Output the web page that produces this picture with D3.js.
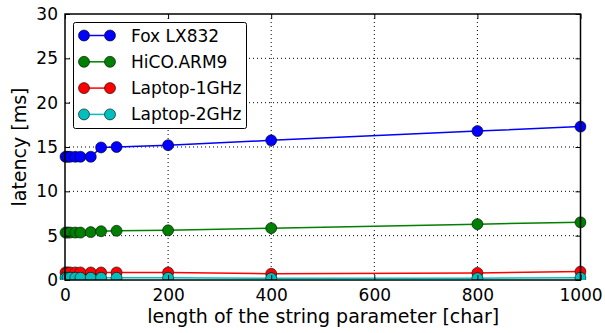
<!DOCTYPE html>
<html>
<head>
<meta charset="utf-8">
<script src="https://cdn.jsdelivr.net/npm/d3@7"></script>
<style>
  html, body { margin: 0; padding: 0; background: #fff; }
  svg { display: block; font-family: "DejaVu Sans", sans-serif; }
</style>
</head>
<body>
<svg id="chart" width="605" height="333"></svg>
<script>
// String length passed as parameter [char]
const stringLengths = [1, 5, 10, 20, 30, 50, 70, 100, 200, 400, 800, 1000];

// Measured latency per platform [ms]
const foxLX832    = [13.9, 13.9, 13.9, 13.9, 13.9, 13.9, 14.95, 15.0, 15.2, 15.75, 16.8, 17.3];
const hicoARM9    = [5.35, 5.35, 5.35, 5.35, 5.35, 5.4, 5.5, 5.55, 5.6, 5.85, 6.3, 6.5];
const laptop1GHz  = [0.85, 0.85, 0.85, 0.85, 0.85, 0.85, 0.85, 0.85, 0.85, 0.7, 0.8, 0.95];
const laptop2GHz  = [0.25, 0.25, 0.25, 0.25, 0.25, 0.25, 0.25, 0.25, 0.25, 0.2, 0.2, 0.25];

const seriesNames  = ["Fox LX832", "HiCO.ARM9", "Laptop-1GHz", "Laptop-2GHz"];
const seriesValues = [foxLX832, hicoARM9, laptop1GHz, laptop2GHz];
const seriesColors = ["#0000ff", "#008000", "#ff0000", "#00bfbf"];

const xTicks = [0, 200, 400, 600, 800, 1000];
const yTicks = [0, 5, 10, 15, 20, 25, 30];

const svg = d3.select("#chart");
const plotLeft = 65, plotRight = 580.5, plotTop = 14, plotBottom = 280;

const x = d3.scaleLinear().domain([0, 1000]).range([plotLeft, plotRight]);
const y = d3.scaleLinear().domain([0, 30]).range([plotBottom, plotTop]);

const fontSize = 17;
const titleSize = 19;

// Dotted grid
const grid = svg.append("g");
grid.selectAll("line.gx").data(xTicks.slice(1, -1)).join("line")
  .attr("x1", d => x(d)).attr("x2", d => x(d))
  .attr("y1", plotTop).attr("y2", plotBottom)
  .attr("stroke", "#000").attr("stroke-width", 1).attr("stroke-dasharray", "1,3");
grid.selectAll("line.gy").data(yTicks.slice(1, -1)).join("line")
  .attr("y1", d => y(d)).attr("y2", d => y(d))
  .attr("x1", plotLeft).attr("x2", plotRight)
  .attr("stroke", "#000").attr("stroke-width", 1).attr("stroke-dasharray", "1,3");

// Series
svg.append("clipPath").attr("id", "plotclip").append("rect")
  .attr("x", plotLeft - 6).attr("y", plotTop)
  .attr("width", plotRight - plotLeft + 12).attr("height", plotBottom - plotTop);

const line = d3.line().x((d, i) => x(stringLengths[i])).y(d => y(d));
const plot = svg.append("g").attr("clip-path", "url(#plotclip)");
seriesValues.forEach((vals, k) => {
  const g = plot.append("g");
  g.append("path").datum(vals)
    .attr("d", line).attr("fill", "none")
    .attr("stroke", seriesColors[k]).attr("stroke-width", 1.5);
  g.selectAll("circle").data(vals).join("circle")
    .attr("cx", (d, i) => x(stringLengths[i]))
    .attr("cy", d => y(d))
    .attr("r", 5.5)
    .attr("fill", seriesColors[k])
    .attr("stroke", "#000").attr("stroke-width", 0.6);
});

// Axes frame with inward ticks on all sides
const xAxisB = d3.axisBottom(x).tickValues(xTicks).tickSize(-5).tickPadding(9).tickFormat(d3.format("d"));
const xAxisT = d3.axisTop(x).tickValues(xTicks).tickSize(-5).tickFormat("");
const yAxisL = d3.axisLeft(y).tickValues(yTicks).tickSize(-5).tickPadding(7).tickFormat(d3.format("d"));
const yAxisR = d3.axisRight(y).tickValues(yTicks).tickSize(-5).tickFormat("");

function styleAxis(g) {
  g.select(".domain").remove();
  g.selectAll(".tick line").attr("stroke", "#000").attr("stroke-width", 1);
  g.selectAll(".tick text").attr("fill", "#000").style("font-size", fontSize + "px")
    .style("font-family", "'DejaVu Sans', sans-serif");
}
svg.append("g").attr("transform", `translate(0,${plotBottom})`).call(xAxisB).call(styleAxis);
svg.append("g").attr("transform", `translate(0,${plotTop})`).call(xAxisT).call(styleAxis);
svg.append("g").attr("transform", `translate(${plotLeft},0)`).call(yAxisL).call(styleAxis);
svg.append("g").attr("transform", `translate(${plotRight},0)`).call(yAxisR).call(styleAxis);

svg.append("rect")
  .attr("x", plotLeft).attr("y", plotTop)
  .attr("width", plotRight - plotLeft).attr("height", plotBottom - plotTop)
  .attr("fill", "none").attr("stroke", "#000").attr("stroke-width", 1.5);

// Axis titles
svg.append("text")
  .attr("x", (plotLeft + plotRight) / 2 + 0.5).attr("y", 323)
  .attr("text-anchor", "middle").style("font-size", titleSize + "px")
  .text("length of the string parameter [char]");
svg.append("text")
  .attr("transform", `translate(26,${(plotTop + plotBottom) / 2}) rotate(-90)`)
  .attr("text-anchor", "middle").style("font-size", titleSize + "px")
  .text("latency [ms]");

// Legend
const legend = svg.append("g");
legend.append("rect")
  .attr("x", 73.5).attr("y", 22.5).attr("width", 173).attr("height", 106)
  .attr("rx", 2).attr("fill", "#fff").attr("stroke", "#000").attr("stroke-width", 1);
seriesNames.forEach((name, k) => {
  const cy = 35.5 + k * 26.3;
  legend.append("line")
    .attr("x1", 84).attr("x2", 110).attr("y1", cy).attr("y2", cy)
    .attr("stroke", seriesColors[k]).attr("stroke-width", 1.5);
  [84, 110].forEach(cx => legend.append("circle")
    .attr("cx", cx).attr("cy", cy).attr("r", 5.5)
    .attr("fill", seriesColors[k]).attr("stroke", "#000").attr("stroke-width", 0.6));
  legend.append("text")
    .attr("x", 131).attr("y", cy + 6)
    .style("font-size", fontSize + "px")
    .text(name);
});
</script>
</body>
</html>
